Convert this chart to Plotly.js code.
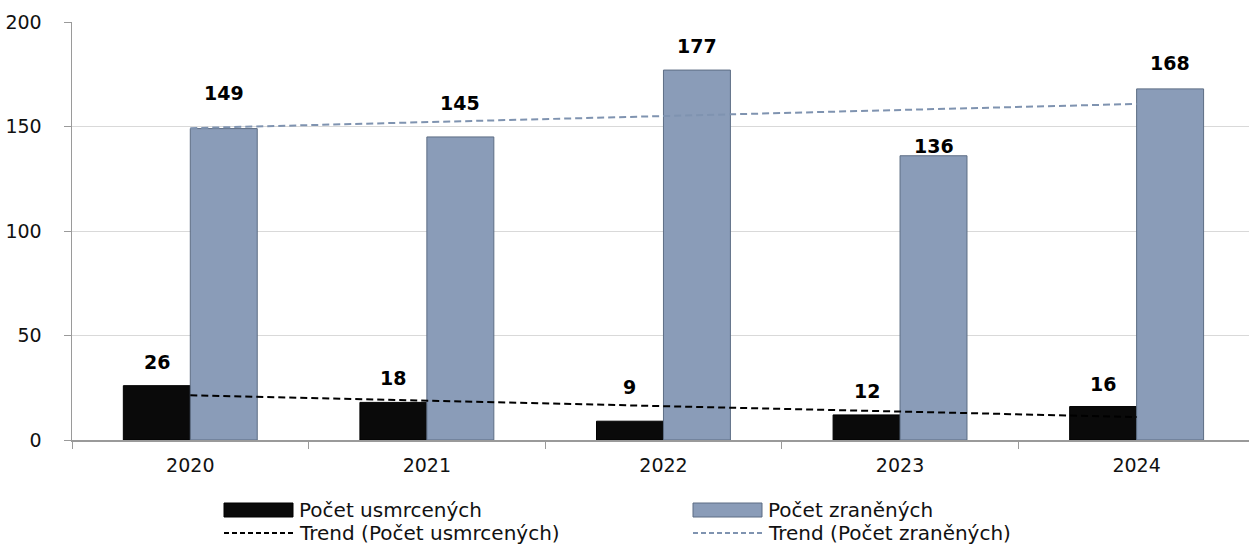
<!DOCTYPE html>
<html>
<head>
<meta charset="utf-8">
<script src="https://cdn.plot.ly/plotly-3.0.1.min.js"></script>
<style>html,body{margin:0;padding:0;background:#fff;}#chart{width:1249px;height:552px;}</style>
</head>
<body>
<div id="chart"></div>
<script>
const years = ['2020', '2021', '2022', '2023', '2024'];
const killed = [26, 18, 9, 12, 16];
const injured = [149, 145, 177, 136, 168];
const nameKilled = 'Počet usmrcených';
const nameInjured = 'Počet zraněných';
const nameTrendKilled = 'Trend (Počet usmrcených)';
const nameTrendInjured = 'Trend (Počet zraněných)';

// label vertical offsets (px above bar top), as placed in the reference
const killedLabelShift = [24, 24, 34, 24, 23];
const injuredLabelShift = [36, 34, 24, 10, 26];

function linTrend(v) {
  const n = v.length;
  const xs = v.map((_, i) => i);
  const mx = xs.reduce((a, b) => a + b, 0) / n;
  const my = v.reduce((a, b) => a + b, 0) / n;
  let sxy = 0, sxx = 0;
  for (let i = 0; i < n; i++) { sxy += (xs[i] - mx) * (v[i] - my); sxx += (xs[i] - mx) ** 2; }
  const b = sxy / sxx;
  return xs.map(x => my + b * (x - mx));
}

const BLUE = '#8a9cb8';
const FONT = 'DejaVu Sans, sans-serif';

const traces = [
  {type: 'bar', x: years, y: killed, name: nameKilled, marker: {color: '#0a0a0a', line: {color: '#000', width: 1}}, showlegend: false, hoverinfo: 'skip'},
  {type: 'bar', x: years, y: injured, name: nameInjured, marker: {color: BLUE, line: {color: '#5d6d84', width: 1}}, showlegend: false, hoverinfo: 'skip'},
  {type: 'scatter', mode: 'lines', x: years, y: linTrend(killed), name: nameTrendKilled, line: {color: '#000', width: 2, dash: '7px,4px'}, showlegend: false, hoverinfo: 'skip'},
  {type: 'scatter', mode: 'lines', x: years, y: linTrend(injured), name: nameTrendInjured, line: {color: '#7f93b0', width: 2, dash: '7px,4px'}, showlegend: false, hoverinfo: 'skip'}
];

const annotations = [];
years.forEach((yr, i) => {
  annotations.push({x: i, y: killed[i], xref: 'x', yref: 'y', yanchor: 'middle', text: '<b>' + killed[i] + '</b>', showarrow: false, xshift: -33.5, yshift: killedLabelShift[i], font: {family: FONT, size: 19, color: '#000'}});
  annotations.push({x: i, y: injured[i], xref: 'x', yref: 'y', yanchor: 'middle', text: '<b>' + injured[i] + '</b>', showarrow: false, xshift: 33.5, yshift: injuredLabelShift[i], font: {family: FONT, size: 19, color: '#000'}});
});

// manual legend (Excel-like wide swatches); pixel positions mapped to paper coords
const W = 1249, H = 552;
const ML = 72, MT = 22, MB = 112, MR = 0;
const PW = W - ML - MR, PH = H - MT - MB;
const px = v => (v - ML) / PW;
const py = v => (H - MB - v) / PH;
const legendItems = [
  {label: nameKilled, kind: 'bar', color: '#0a0a0a', edge: '#000', x: 224, y: 510},
  {label: nameInjured, kind: 'bar', color: BLUE, edge: '#5d6d84', x: 693, y: 510},
  {label: nameTrendKilled, kind: 'line', color: '#000', x: 224, y: 533},
  {label: nameTrendInjured, kind: 'line', color: '#7f93b0', x: 693, y: 533}
];
const shapes = [];
legendItems.forEach(it => {
  if (it.kind === 'bar') {
    shapes.push({type: 'rect', xref: 'paper', yref: 'paper', x0: px(it.x), x1: px(it.x + 69), y0: py(it.y - 7), y1: py(it.y + 7), fillcolor: it.color, line: {color: it.edge, width: 1}});
  } else {
    shapes.push({type: 'line', xref: 'paper', yref: 'paper', x0: px(it.x), x1: px(it.x + 69), y0: py(it.y), y1: py(it.y), line: {color: it.color, width: 2, dash: '5px,3px'}});
  }
  annotations.push({xref: 'paper', yref: 'paper', x: px(it.x + 73), y: py(it.y), xanchor: 'left', yanchor: 'middle', text: it.label, showarrow: false, font: {family: FONT, size: 20, color: '#111'}});
});

const layout = {
  width: W, height: H,
  margin: {l: ML, r: MR, t: MT, b: MB, pad: 0},
  paper_bgcolor: '#fff', plot_bgcolor: '#fff',
  font: {family: FONT, size: 19, color: '#111'},
  barmode: 'group', bargap: 0.434, bargroupgap: 0,
  showlegend: false,
  xaxis: {type: 'category', range: [-0.5, 4.475], showgrid: false, showline: true, linecolor: '#9a9a9a', linewidth: 1.5,
          ticks: 'outside', ticklen: 7, tickcolor: '#9a9a9a', tickson: 'boundaries', ticklabelstandoff: 8, zeroline: false,
          tickfont: {family: FONT, size: 19, color: '#111'}},
  yaxis: {range: [0, 200], dtick: 50, showgrid: true, gridcolor: '#d9d9d9', gridwidth: 1, showline: true, linecolor: '#9a9a9a', linewidth: 1.5,
          ticks: 'outside', ticklen: 7, tickcolor: '#9a9a9a', ticklabelstandoff: 18, zeroline: false,
          tickfont: {family: FONT, size: 19, color: '#111'}},
  annotations: annotations,
  shapes: shapes
};

Plotly.newPlot('chart', traces, layout, {staticPlot: true, displayModeBar: false});
</script>
</body>
</html>
